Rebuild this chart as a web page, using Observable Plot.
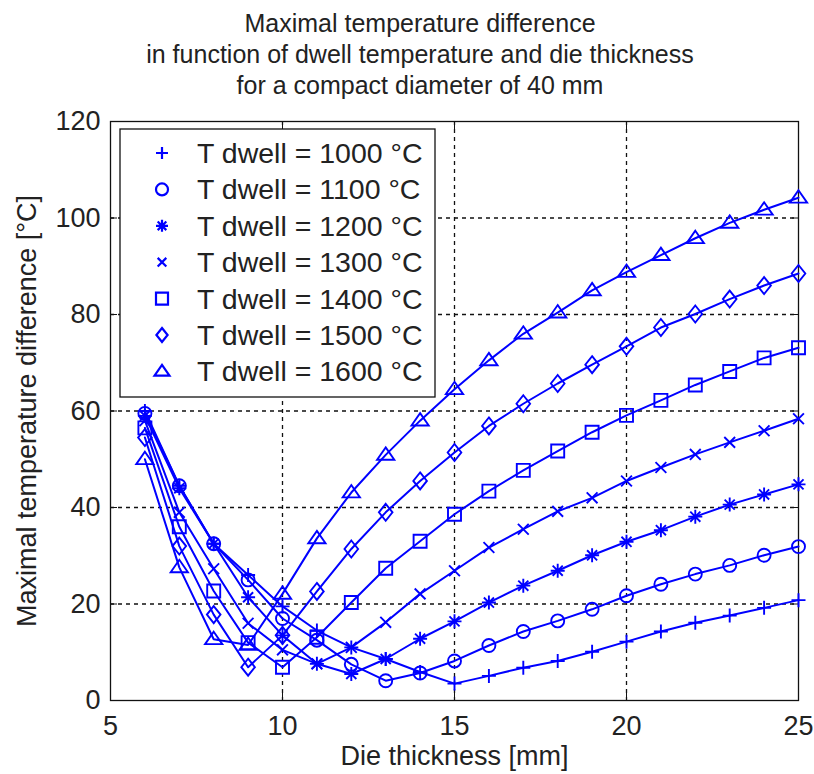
<!DOCTYPE html>
<html>
<head>
<meta charset="utf-8">
<script src="https://cdn.jsdelivr.net/npm/d3@7"></script>
<script src="https://cdn.jsdelivr.net/npm/@observablehq/plot@0.6"></script>
<style>
  html, body { margin: 0; padding: 0; background: #fff; }
  #wrap { width: 814px; height: 774px; position: relative; font-family: "Liberation Sans", Arial, sans-serif; }
  #title { height: 104px; box-sizing: border-box; padding-top: 8px; padding-left: 26px; text-align: center;
           font-size: 25px; line-height: 31px; color: #222; }
</style>
</head>
<body>
<div id="wrap">
  <div id="title">Maximal temperature difference<br>in function of dwell temperature and die thickness<br>for a compact diameter of 40 mm</div>
  <div id="chart"></div>
</div>
<script>
// ---- data ----
const thickness = [6, 7, 8, 9, 10, 11, 12, 13, 14, 15, 16, 17, 18, 19, 20, 21, 22, 23, 24, 25];
const dwellTemps = [1000, 1100, 1200, 1300, 1400, 1500, 1600];
const dT1000 = [60, 44.5, 32.5, 26, 19.5, 14.5, 11, 8.6, 5.9, 3.5, 5.1, 6.8, 8.2, 10.1, 12.2, 14.3, 16.1, 17.6, 19.2, 20.8];
const dT1100 = [59.5, 44.5, 32.5, 25, 17, 12.5, 7.5, 4.1, 5.7, 8.2, 11.4, 14.3, 16.5, 18.9, 21.7, 24.1, 26.2, 28.0, 30.1, 31.9];
const dT1200 = [59, 44, 32.5, 21.4, 13.5, 7.6, 5.5, 8.6, 12.8, 16.4, 20.3, 23.8, 26.9, 30.1, 32.9, 35.3, 38.1, 40.6, 42.7, 44.8];
const dT1300 = [58, 39, 27.3, 16, 10.5, 7.6, 11, 16.2, 22.1, 26.9, 31.7, 35.5, 39.2, 42.0, 45.5, 48.3, 51.0, 53.5, 55.9, 58.4];
const dT1400 = [56.5, 36, 22.7, 12, 6.9, 13.1, 20.3, 27.4, 33, 38.6, 43.4, 47.7, 51.7, 55.6, 59.1, 62.2, 65.4, 68.2, 71.0, 73.1];
const dT1500 = [54.5, 32, 17.8, 6.9, 13.5, 22.6, 31.4, 39, 45.5, 51.4, 56.9, 61.5, 65.7, 69.6, 73.4, 77.3, 80.1, 83.2, 86.0, 88.5];
const dT1600 = [50, 27.6, 12.7, 11.5, 22.1, 33.6, 43.1, 50.9, 58, 64.5, 70.5, 76, 80.4, 85, 88.8, 92.3, 95.8, 99, 101.7, 104.2];
const xTicks = [5, 10, 15, 20, 25];
const yTicks = [0, 20, 40, 60, 80, 100, 120];
const xGrid = [10, 15, 20];
const yGrid = [20, 40, 60, 80, 100];
const legendLabels = dwellTemps.map(t => `T dwell = ${t} °C`);

const seriesValues = [dT1000, dT1100, dT1200, dT1300, dT1400, dT1500, dT1600];
const rows = dwellTemps.flatMap((t, k) => thickness.map((x, i) => ({series: t, x, y: seriesValues[k][i]})));

// ---- MATLAB-like marker symbols (size = r^2 * PI as passed by Plot) ----
const R = s => Math.sqrt(s / Math.PI);
const symPlus = {draw(c, s) { const r = R(s); c.moveTo(-r, 0); c.lineTo(r, 0); c.moveTo(0, -r); c.lineTo(0, r); }};
const symCircle = {draw(c, s) { const r = R(s); c.moveTo(r, 0); c.arc(0, 0, r, 0, 2 * Math.PI); }};
const symAster = {draw(c, s) { const r = R(s), q = r * 0.72; c.moveTo(-r, 0); c.lineTo(r, 0); c.moveTo(0, -r); c.lineTo(0, r);
  c.moveTo(-q, -q); c.lineTo(q, q); c.moveTo(-q, q); c.lineTo(q, -q); }};
const symTimes = {draw(c, s) { const r = R(s) * 0.72; c.moveTo(-r, -r); c.lineTo(r, r); c.moveTo(-r, r); c.lineTo(r, -r); }};
const symSquare = {draw(c, s) { const r = R(s); c.moveTo(-r, -r); c.lineTo(r, -r); c.lineTo(r, r); c.lineTo(-r, r); c.closePath(); }};
const symDiamond = {draw(c, s) { const r = R(s), w = r * 0.8; c.moveTo(0, -r); c.lineTo(w, 0); c.lineTo(0, r); c.lineTo(-w, 0); c.closePath(); }};
const symTriangle = {draw(c, s) { const r = R(s); c.moveTo(0, -r); c.lineTo(r * 1.15, r * 0.65); c.lineTo(-r * 1.15, r * 0.65); c.closePath(); }};
const symbols = [symPlus, symCircle, symAster, symTimes, symSquare, symDiamond, symTriangle];
const radii = [7, 6.5, 7, 7.5, 6.5, 8.5, 7.5];
const legendRadii = [6, 6, 6, 6, 6, 7, 6.5];

const blue = "#0000ff";
const font = '"Liberation Sans", Arial, sans-serif';
const gridStyle = {stroke: "#111", strokeOpacity: 1, strokeWidth: 1.3, strokeDasharray: "4,4"};

const marks = [
  Plot.gridX({ticks: xGrid, ...gridStyle}),
  Plot.gridY({ticks: yGrid, ...gridStyle}),
  Plot.axisX({ticks: xTicks, tickSize: 0, tickPadding: 15, label: null, fontSize: 27, fill: "#222"}),
  Plot.axisX({ticks: xTicks, tickSize: 7, dy: -7, tickFormat: () => "", label: null, stroke: "#111"}),
  Plot.axisX({ticks: xTicks, anchor: "top", tickSize: 7, dy: 7, tickFormat: () => "", label: null, stroke: "#111"}),
  Plot.axisY({ticks: yTicks, tickSize: 0, tickPadding: 10, label: null, fontSize: 27, fill: "#222"}),
  Plot.axisY({ticks: yTicks, tickSize: 7, dx: 7, tickFormat: () => "", label: null, stroke: "#111"}),
  Plot.axisY({ticks: yTicks, anchor: "right", tickSize: 7, dx: -7, tickFormat: () => "", label: null, stroke: "#111"}),
  Plot.frame({stroke: "#111", strokeWidth: 1.3}),
  Plot.line(rows, {x: "x", y: "y", z: "series", stroke: blue, strokeWidth: 2}),
  ...dwellTemps.map((t, k) => Plot.dot(rows.filter(d => d.series === t),
      {x: "x", y: "y", symbol: symbols[k], r: radii[k], stroke: blue, strokeWidth: 1.9, fill: "none"})),
  Plot.text(["Die thickness [mm]"], {frameAnchor: "bottom", lineAnchor: "top", dy: 45, fontSize: 27, fill: "#222"}),
  Plot.text(["Maximal temperature difference [°C]"], {frameAnchor: "left", rotate: -90, dx: -83, textAnchor: "middle", lineAnchor: "middle", fontSize: 27, fill: "#222"})
];

const svg = Plot.plot({
  width: 814, height: 670,
  marginLeft: 110, marginRight: 16, marginTop: 17, marginBottom: 74,
  x: {domain: [5, 25]},
  y: {domain: [0, 120]},
  style: {fontFamily: font, fontSize: "27px", color: "#222", background: "#fff", overflow: "visible"},
  marks
});

// ---- legend (MATLAB style box, top-left inside the axes) ----
const lg = d3.select(svg).append("g").attr("text-anchor", "start");
lg.append("rect").attr("x", 120).attr("y", 25).attr("width", 315).attr("height", 268)
  .attr("fill", "#fff").attr("stroke", "#111").attr("stroke-width", 1.3);
legendLabels.forEach((lab, k) => {
  const cy = 49 + k * 36.4;
  const p = d3.path();
  symbols[k].draw(p, legendRadii[k] * legendRadii[k] * Math.PI);
  lg.append("path").attr("d", p.toString()).attr("transform", `translate(162,${cy})`)
    .attr("fill", "none").attr("stroke", blue).attr("stroke-width", 2.2);
  lg.append("text").attr("x", 197).attr("y", cy + 10).attr("font-size", 28.5).attr("fill", "#222")
    .attr("text-anchor", "start").attr("font-family", font).text(lab);
});

document.getElementById("chart").appendChild(svg);
</script>
</body>
</html>
